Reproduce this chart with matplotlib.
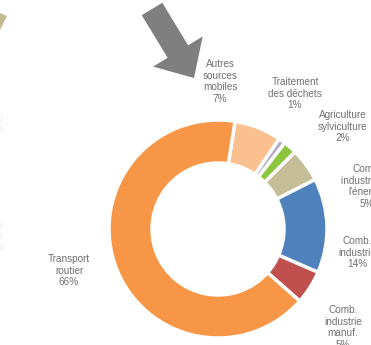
import matplotlib.pyplot as plt
from matplotlib.patches import FancyArrow, Polygon

# emission shares by sector (%), clockwise from the top
sectors = ["Autres sources mobiles", "Traitement des déchets", "Agriculture sylviculture",
           "Comb. industrie de l'énergie", "Comb. industrie", "Comb. industrie manuf.",
           "Transport routier"]
shares = [7, 1, 2, 5, 14, 5, 66]
colors = ["#FAC090", "#B3A9C4", "#8CC63F", "#C4BD97", "#4F81BD", "#C0504D", "#F79646"]

labels = ["Autres\nsources\nmobiles\n7%", "Traitement\ndes déchets\n1%",
          "Agriculture\nsylviculture\n2%", "Comb.\nindustrie de\nl'énergie\n5%",
          "Comb.\nindustrie\n14%", "Comb.\nindustrie\nmanuf.\n5%", "Transport\nroutier\n66%"]
label_pos = [(220, 59), (295, 77), (343, 110), (367, 164), (357, 236), (343, 305), (69, 254)]

plt.rcParams['font.family'] = ['Liberation Sans', 'DejaVu Sans']

fig = plt.figure(figsize=(3.71, 3.45), dpi=100)
ax = fig.add_axes([0, 0, 1, 1])

# ring, drawn in pixel-like units (y going down as negative)
ax.pie(shares, colors=colors, startangle=81, counterclock=False,
       radius=109, center=(218, -229),
       wedgeprops=dict(width=43, edgecolor="white", linewidth=2.5))

for txt, (x, y) in zip(labels, label_pos):
    ax.text(x, -y, txt, ha="center", va="top", fontsize=7.2, color="#707070",
            linespacing=1.2)

# leftovers of labels from the neighbouring chart
ax.text(4, -113, "es\n%", ha="right", va="top", fontsize=7.2, color="#ececec", linespacing=1.1)
ax.text(4, -220, "es\nre\n%", ha="right", va="top", fontsize=7.2, color="#eeeeee", linespacing=1.1)

# big grey arrow pointing at the small sectors
ax.add_patch(FancyArrow(152, -9, 42, -69, width=24, head_width=58, head_length=31,
                        length_includes_head=True, color="#7f7f7f", lw=0))
# corner of another arrow coming in from the left
ax.add_patch(Polygon([(0, -13), (7, -16), (0, -30)], closed=True, color="#C2BB92", lw=0))

ax.set_xlim(0, 371)
ax.set_ylim(-345, 0)
ax.set_aspect("equal")
ax.axis("off")

fig.savefig("out.png", dpi=100)
